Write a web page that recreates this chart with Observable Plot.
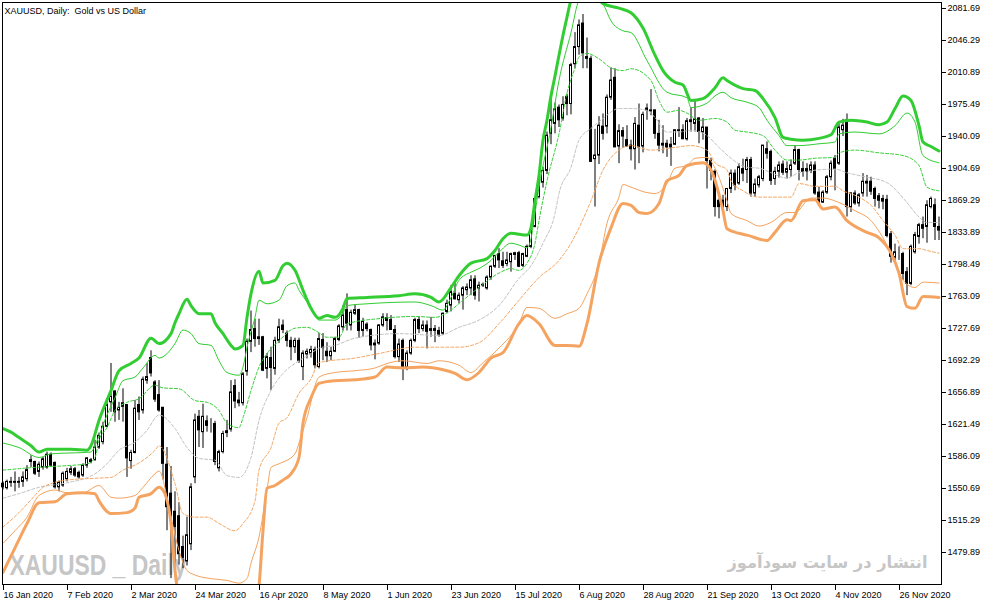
<!DOCTYPE html>
<html><head><meta charset="utf-8">
<script src="https://cdn.jsdelivr.net/npm/d3@7"></script>
<script src="https://cdn.jsdelivr.net/npm/@observablehq/plot@0.6"></script>
<style>
html,body{margin:0;padding:0;background:#fff;}
svg text{white-space:pre;}
</style></head><body><div id="chart"></div><script>
const titleText = "XAUUSD, Daily:  Gold vs US Dollar";
const wmLeft = "XAUUSD _ Daily";
const wmRight = "انتشار در سایت سودآموز";

const yTicks = [2081.69, 2046.29, 2010.89, 1975.49, 1940.09, 1904.69, 1869.29, 1833.89, 1798.49, 1763.09, 1727.69, 1692.29, 1656.89, 1621.49, 1586.09, 1550.69, 1515.29, 1479.89];
const xTickPos = [0, 16, 32, 48, 64, 80, 96, 112, 128, 144, 160, 176, 192, 208, 224];
const xTickLabels = ["16 Jan 2020", "7 Feb 2020", "2 Mar 2020", "24 Mar 2020", "16 Apr 2020", "8 May 2020", "1 Jun 2020", "23 Jun 2020", "15 Jul 2020", "6 Aug 2020", "28 Aug 2020", "21 Sep 2020", "13 Oct 2020", "4 Nov 2020", "26 Nov 2020"];

const open = [
1556,1551,1558,1558,1557,1558,1561,1582,1580,1569,
1574,1574,1588,1579,1552,1554,1561,1568,1572,1568,
1565,1576,1582,1582,1596,1602,1619,1646,1658,1637,
1641,1643,1581,1590,1643,1637,1670,1695,1668,1654,
1640,1577,1545,1525,1520,1486,1470,1489,1563,1630,
1613,1625,1621,1622,1573,1591,1614,1616,1664,1648,
1645,1680,1713,1727,1716,1718,1683,1695,1683,1714,
1731,1722,1714,1707,1714,1685,1699,1700,1704,1685,
1715,1702,1697,1702,1715,1729,1748,1731,1744,1748,
1725,1732,1726,1711,1711,1731,1736,1737,1726,1696,
1714,1685,1700,1714,1737,1727,1731,1725,1727,1725,
1722,1746,1753,1766,1759,1764,1770,1772,1782,1772,
1775,1772,1784,1796,1810,1802,1799,1801,1809,1811,
1797,1807,1818,1840,1873,1889,1902,1943,1954,1972,
1960,1984,1976,2020,2039,2065,2028,2026,1915,1919,
1951,1951,1983,2005,1929,1946,1936,1930,1926,1952,
1929,1971,1968,1969,1943,1930,1932,1931,1931,1946,
1947,1937,1956,1954,1960,1945,1950,1913,1901,1869,
1869,1862,1882,1899,1888,1904,1903,1914,1877,1886,
1893,1926,1923,1893,1901,1909,1900,1903,1910,1925,
1904,1904,1902,1908,1878,1867,1878,1895,1915,1910,
1947,1958,1862,1877,1866,1877,1888,1890,1882,1874,
1871,1870,1832,1806,1810,1810,1790,1777,1812,1829,
1842,1840,1862,1864,1840];
const high = [
1558,1560,1563,1569,1563,1569,1576,1587,1581,1580,
1585,1591,1590,1580,1559,1569,1573,1575,1574,1570,
1578,1585,1584,1604,1612,1624,1650,1689,1659,1646,
1661,1643,1593,1648,1652,1674,1689,1703,1670,1670,
1640,1596,1575,1547,1535,1498,1519,1556,1633,1637,
1644,1631,1628,1625,1593,1614,1626,1670,1671,1657,
1679,1716,1747,1738,1738,1719,1700,1707,1718,1738,
1737,1725,1718,1717,1717,1703,1705,1708,1707,1722,
1722,1712,1707,1718,1732,1753,1766,1748,1754,1749,
1739,1734,1727,1715,1732,1744,1744,1742,1731,1716,
1716,1703,1716,1739,1740,1736,1736,1740,1731,1729,
1745,1759,1775,1779,1767,1774,1777,1786,1786,1779,
1778,1786,1797,1808,1816,1812,1812,1811,1812,1813,
1811,1820,1838,1871,1898,1906,1945,1981,1977,1975,
1984,1987,2021,2055,2069,2075,2049,2029,1948,1962,
1965,1986,2016,2015,1953,1950,1952,1936,1961,1976,
1967,1976,1992,1969,1958,1952,1936,1939,1947,1972,
1953,1960,1972,1980,1961,1960,1950,1916,1903,1871,
1875,1882,1903,1903,1910,1915,1917,1917,1893,1897,
1930,1934,1925,1906,1912,1913,1912,1914,1930,1926,
1912,1910,1912,1912,1884,1880,1897,1913,1919,1954,
1959,1965,1878,1880,1877,1899,1897,1895,1884,1877,
1875,1875,1835,1821,1818,1812,1795,1820,1834,1844,
1851,1869,1873,1871,1851];
const low = [
1549,1549,1552,1547,1551,1552,1558,1574,1565,1563,
1571,1572,1574,1550,1547,1552,1558,1565,1563,1561,
1563,1573,1578,1581,1594,1599,1618,1635,1624,1626,
1624,1563,1572,1589,1626,1633,1666,1674,1646,1635,
1560,1504,1451,1464,1466,1462,1465,1482,1556,1596,
1595,1613,1612,1576,1569,1589,1607,1613,1639,1641,
1642,1675,1701,1707,1709,1680,1672,1659,1676,1711,
1722,1707,1692,1700,1689,1670,1694,1695,1683,1683,
1692,1690,1692,1701,1713,1725,1725,1725,1742,1717,
1718,1724,1703,1693,1709,1729,1725,1726,1694,1690,
1670,1681,1698,1712,1722,1724,1705,1718,1712,1718,
1720,1744,1746,1759,1755,1748,1764,1764,1759,1757,
1773,1770,1781,1794,1794,1794,1796,1790,1803,1795,
1795,1806,1816,1839,1871,1883,1898,1931,1943,1950,
1957,1963,1964,2015,2030,2015,2015,1912,1862,1909,
1936,1943,1980,1928,1910,1927,1929,1913,1903,1910,
1922,1958,1963,1937,1923,1921,1917,1907,1930,1939,
1937,1935,1945,1945,1932,1936,1882,1891,1851,1849,
1855,1857,1877,1880,1886,1890,1888,1873,1873,1883,
1890,1915,1886,1886,1894,1897,1893,1895,1908,1891,
1895,1891,1899,1875,1866,1866,1876,1891,1880,1908,
1940,1851,1856,1864,1862,1873,1873,1875,1862,1860,
1859,1828,1800,1801,1803,1781,1764,1775,1810,1821,
1827,1822,1860,1825,1825];
const close = [
1552,1558,1557,1557,1558,1563,1571,1580,1567,1577,
1583,1588,1576,1552,1557,1567,1569,1572,1565,1563,
1576,1584,1580,1596,1609,1619,1643,1652,1635,1640,
1645,1584,1590,1639,1635,1671,1674,1678,1649,1637,
1578,1530,1520,1508,1478,1474,1499,1552,1626,1615,
1630,1620,1621,1580,1591,1611,1612,1657,1647,1645,
1677,1713,1726,1716,1718,1681,1696,1684,1714,1729,
1726,1714,1707,1714,1692,1700,1702,1704,1687,1716,
1706,1697,1702,1716,1730,1742,1733,1745,1748,1725,
1735,1727,1709,1709,1731,1740,1739,1726,1696,1710,
1685,1700,1714,1737,1727,1731,1724,1727,1725,1721,
1744,1755,1768,1760,1764,1772,1773,1781,1764,1775,
1776,1784,1796,1808,1803,1797,1803,1810,1811,1796,
1810,1818,1836,1871,1889,1902,1941,1958,1970,1958,
1975,1976,2019,2039,2063,2032,2026,1912,1919,1952,
1943,1983,2002,1928,1946,1940,1929,1926,1954,1928,
1964,1969,1969,1943,1930,1932,1928,1928,1947,1947,
1937,1957,1958,1959,1945,1950,1913,1902,1862,1862,
1862,1882,1899,1886,1906,1899,1914,1877,1887,1895,
1930,1921,1891,1901,1908,1900,1904,1908,1925,1903,
1901,1901,1908,1877,1867,1878,1895,1910,1904,1950,
1952,1862,1877,1866,1875,1890,1890,1879,1871,1869,
1868,1830,1807,1812,1810,1788,1777,1818,1831,1842,
1838,1864,1871,1840,1836];

// indicator bands: [bar index, price]
const upperOuter = [[0,1617],[2,1613],[4,1607],[7,1598],[9,1591],[11,1594],[17,1594],[21,1593],[22,1598],[24,1626],[27,1659],[29,1681],[32,1689],[34,1695],[37,1717],[39,1711],[42,1722],[43,1734],[44,1744],[46,1760],[47,1753],[49,1744],[52,1744],[53,1734],[55,1722],[57,1709],[58,1705],[60,1709],[61,1740],[62,1766],[64,1791],[65,1778],[68,1781],[70,1797],[71,1800],[73,1792],[75,1770],[77,1750],[79,1739],[81,1742],[83,1740],[85,1750],[86,1761],[91,1762],[99,1764],[103,1766],[107,1762],[109,1757],[112,1773],[114,1786],[117,1800],[121,1805],[123,1814],[125,1827],[127,1833],[131,1831],[132,1839],[133,1869],[134,1897],[135,1936],[136,1958],[137,1985],[138,2007],[139,2030],[140,2052],[141,2072],[142,2091],[144,2104],[146,2107],[148,2099],[150,2087],[154,2082],[157,2077],[160,2060],[163,2030],[165,2013],[168,2000],[170,1997],[172,1980],[175,1982],[178,1994],[180,2005],[181,2002],[185,1993],[188,1991],[190,1982],[193,1961],[195,1939],[197,1937],[200,1936],[204,1938],[207,1942],[209,1956],[212,1958],[216,1956],[219,1953],[221,1956],[223,1971],[225,1985],[227,1980],[229,1952],[230,1934],[232,1929],[234,1924]];
const upperMid = [[0,1601],[4,1596],[9,1585],[12,1589],[22,1591],[23,1598],[24,1609],[26,1632],[28,1651],[30,1670],[33,1674],[35,1684],[38,1698],[39,1695],[43,1711],[45,1726],[47,1722],[49,1711],[52,1709],[54,1692],[56,1679],[59,1676],[60,1685],[61,1707],[63,1740],[64,1759],[66,1755],[69,1759],[71,1775],[73,1778],[74,1770],[77,1751],[79,1737],[83,1737],[85,1745],[86,1753],[91,1755],[103,1757],[107,1753],[110,1748],[112,1762],[114,1781],[117,1790],[119,1794],[122,1803],[124,1812],[127,1822],[129,1820],[131,1817],[132,1827],[133,1855],[134,1884],[137,1950],[139,2002],[142,2055],[144,2091],[146,2099],[148,2097],[150,2087],[152,2068],[155,2057],[157,2055],[161,2024],[166,1989],[171,1983],[172,1972],[176,1977],[178,1985],[180,1989],[182,1983],[186,1978],[189,1972],[191,1958],[194,1941],[196,1930],[199,1930],[204,1932],[208,1934],[209,1943],[213,1945],[219,1943],[223,1952],[226,1966],[228,1956],[230,1919],[234,1911]];
const upperInner = [[0,1571],[8,1574],[16,1576],[21,1578],[23,1585],[24,1604],[26,1618],[28,1637],[31,1646],[34,1650],[38,1665],[40,1662],[44,1661],[48,1648],[51,1646],[54,1637],[56,1623],[59,1618],[60,1629],[62,1659],[64,1685],[66,1700],[69,1714],[73,1728],[76,1729],[79,1723],[81,1718],[84,1718],[86,1733],[95,1739],[103,1741],[108,1740],[111,1745],[115,1759],[119,1773],[124,1789],[127,1794],[129,1792],[131,1800],[133,1822],[134,1847],[136,1891],[139,1943],[141,1988],[143,2016],[144,2028],[146,2032],[149,2026],[152,2016],[155,2013],[157,2015],[162,2002],[164,1980],[166,1967],[169,1969],[171,1966],[174,1958],[178,1960],[181,1956],[183,1947],[186,1945],[190,1941],[193,1925],[196,1914],[199,1914],[203,1916],[208,1917],[209,1922],[213,1925],[219,1922],[225,1919],[229,1908],[231,1884],[234,1880]];
const middle = [[0,1540],[4,1545],[9,1552],[16,1557],[23,1567],[26,1578],[29,1593],[33,1602],[36,1615],[39,1632],[43,1617],[46,1596],[49,1584],[53,1582],[56,1565],[59,1563],[62,1585],[64,1626],[67,1659],[70,1678],[74,1692],[77,1700],[79,1706],[83,1709],[88,1717],[99,1722],[109,1720],[114,1729],[119,1737],[124,1753],[129,1783],[132,1797],[135,1822],[138,1855],[139,1877],[142,1906],[144,1936],[147,1949],[150,1960],[154,1971],[157,1971],[161,1969],[163,1961],[166,1945],[169,1945],[172,1947],[176,1941],[179,1928],[182,1916],[186,1906],[189,1905],[192,1900],[196,1894],[199,1900],[208,1904],[211,1900],[216,1895],[221,1889],[226,1867],[229,1851],[231,1845],[234,1845]];
const lowerInner = [[0,1508],[4,1524],[8,1543],[10,1552],[16,1560],[23,1562],[27,1563],[30,1571],[34,1579],[38,1593],[39,1598],[43,1556],[45,1523],[48,1519],[51,1519],[54,1512],[58,1504],[60,1512],[63,1537],[64,1571],[67,1596],[69,1623],[71,1629],[74,1656],[77,1672],[79,1690],[88,1695],[94,1700],[103,1707],[109,1707],[114,1707],[119,1712],[124,1733],[129,1759],[134,1784],[139,1803],[142,1822],[144,1839],[147,1869],[150,1903],[154,1925],[157,1930],[162,1925],[168,1928],[172,1930],[176,1925],[178,1911],[181,1903],[182,1891],[185,1880],[189,1873],[197,1873],[199,1888],[203,1885],[208,1885],[210,1880],[214,1873],[217,1864],[220,1847],[223,1831],[225,1816],[229,1816],[231,1814],[234,1811]];
const lowerMid = [[0,1490],[3,1504],[6,1519],[9,1543],[13,1549],[16,1546],[20,1546],[24,1554],[27,1541],[29,1540],[33,1543],[35,1552],[38,1567],[39,1570],[42,1519],[44,1482],[46,1460],[48,1455],[52,1451],[56,1449],[59,1446],[61,1451],[62,1468],[64,1497],[66,1549],[67,1574],[69,1578],[73,1589],[74,1601],[76,1629],[79,1674],[83,1679],[88,1681],[93,1684],[96,1689],[100,1692],[106,1689],[109,1692],[114,1687],[117,1679],[120,1690],[124,1706],[129,1733],[131,1751],[134,1750],[138,1739],[141,1744],[144,1750],[146,1766],[149,1800],[151,1844],[154,1873],[155,1887],[157,1884],[161,1878],[163,1877],[166,1888],[168,1905],[171,1908],[173,1916],[176,1917],[178,1905],[181,1869],[182,1855],[186,1847],[189,1841],[192,1845],[196,1856],[198,1856],[202,1872],[205,1872],[209,1867],[213,1858],[217,1847],[220,1828],[223,1801],[225,1781],[228,1773],[230,1779],[234,1778]];
const lowerOuter = [[0,1458],[3,1485],[6,1512],[9,1535],[13,1536],[16,1545],[20,1546],[23,1545],[24,1537],[27,1523],[31,1524],[33,1529],[34,1541],[37,1545],[39,1552],[40,1549],[42,1512],[43,1460],[45,1416],[49,1399],[53,1394],[57,1388],[61,1394],[63,1421],[64,1443],[65,1504],[66,1551],[68,1554],[70,1560],[72,1567],[74,1585],[75,1623],[77,1651],[79,1667],[83,1670],[88,1671],[93,1674],[96,1685],[100,1684],[105,1685],[110,1682],[113,1678],[116,1671],[119,1679],[122,1695],[125,1701],[129,1733],[131,1742],[134,1733],[138,1709],[141,1709],[144,1708],[146,1733],[149,1800],[152,1839],[155,1866],[157,1864],[159,1856],[161,1855],[164,1866],[166,1891],[169,1897],[171,1908],[175,1911],[177,1903],[180,1858],[181,1838],[184,1833],[186,1831],[191,1825],[193,1834],[196,1848],[197,1847],[200,1869],[203,1870],[205,1860],[208,1862],[211,1847],[216,1834],[219,1828],[222,1811],[224,1789],[226,1752],[228,1750],[230,1763],[234,1762]];

const candles = open.map((o, i) => ({i, open: o, high: high[i], low: low[i], close: close[i]}));
const bull = candles.filter(d => d.close >= d.open);
const bear = candles.filter(d => d.close < d.open);

const GREEN = "#32CD32", ORANGE = "#F4A460", GRAY = "#C0C0C0";
const lx = d => d[0], ly = d => d[1];
const band = (data, stroke, width, dash) => Plot.line(data, {x: lx, y: ly, stroke, strokeWidth: width, strokeDasharray: dash, clip: true, curve: "monotone-x", strokeLinejoin: "round"});

const chart = Plot.plot({
  width: 994, height: 605,
  marginLeft: 2, marginRight: 53, marginTop: 2, marginBottom: 21,
  style: {fontFamily: "'Liberation Sans', Arial, sans-serif", fontSize: "9px", background: "#fff", color: "#000", overflow: "visible"},
  x: {domain: [-0.125, 234.625]},
  y: {domain: [1444.5, 2088.3]},
  marks: [
    Plot.text([wmLeft], {frameAnchor: "bottom-left", textAnchor: "start", lineAnchor: "bottom", dx: 7, dy: -10, fontSize: 29, fontWeight: "bold", fill: "#c6c6c6"}),
    Plot.text([wmRight], {frameAnchor: "bottom-left", textAnchor: "start", lineAnchor: "bottom", dx: 725, dy: -17, fontSize: 16.5, fontWeight: "bold", fontFamily: "DejaVu Sans", fill: "#c6c6c6"}),
    Plot.ruleX(candles, {x: "i", y1: "low", y2: "high", stroke: "#000", strokeWidth: 1}),
    Plot.rect(bull, {x1: d => d.i - 0.25, x2: d => d.i + 0.25, y1: "open", y2: "close", fill: "#fff", stroke: "#000", strokeWidth: 1}),
    Plot.rect(bear, {x1: d => d.i - 0.25, x2: d => d.i + 0.25, y1: "open", y2: "close", fill: "#000", stroke: "#000", strokeWidth: 1}),
    band(middle, GRAY, 1, "3,2"),
    band(lowerInner, ORANGE, 1, "3,2"),
    band(lowerMid, ORANGE, 1, null),
    band(lowerOuter, ORANGE, 3, null),
    band(upperInner, GREEN, 1, "3,2"),
    band(upperMid, GREEN, 1, null),
    band(upperOuter, GREEN, 3, null),
    Plot.frame({stroke: "#000"}),
    Plot.axisY({anchor: "right", ticks: yTicks, tickFormat: d => d.toFixed(2), tickSize: 4, tickPadding: 2, label: null}),
    Plot.axisX({anchor: "bottom", ticks: xTickPos, tickFormat: d => xTickLabels[xTickPos.indexOf(d)], tickSize: 6, tickPadding: 1, textAnchor: "start", dx: 0.5, label: null}),
    Plot.text([titleText], {frameAnchor: "top-left", textAnchor: "start", lineAnchor: "top", dx: 2, dy: 5, fontSize: 9})
  ]
});
document.getElementById("chart").appendChild(chart);
const fit = (txt, len) => d3.select(chart).selectAll("text")
  .filter(function () { return this.textContent === txt; })
  .attr("textLength", len).attr("lengthAdjust", "spacingAndGlyphs");
fit(wmLeft, 177);
fit(wmRight, 200);
</script></body></html>
